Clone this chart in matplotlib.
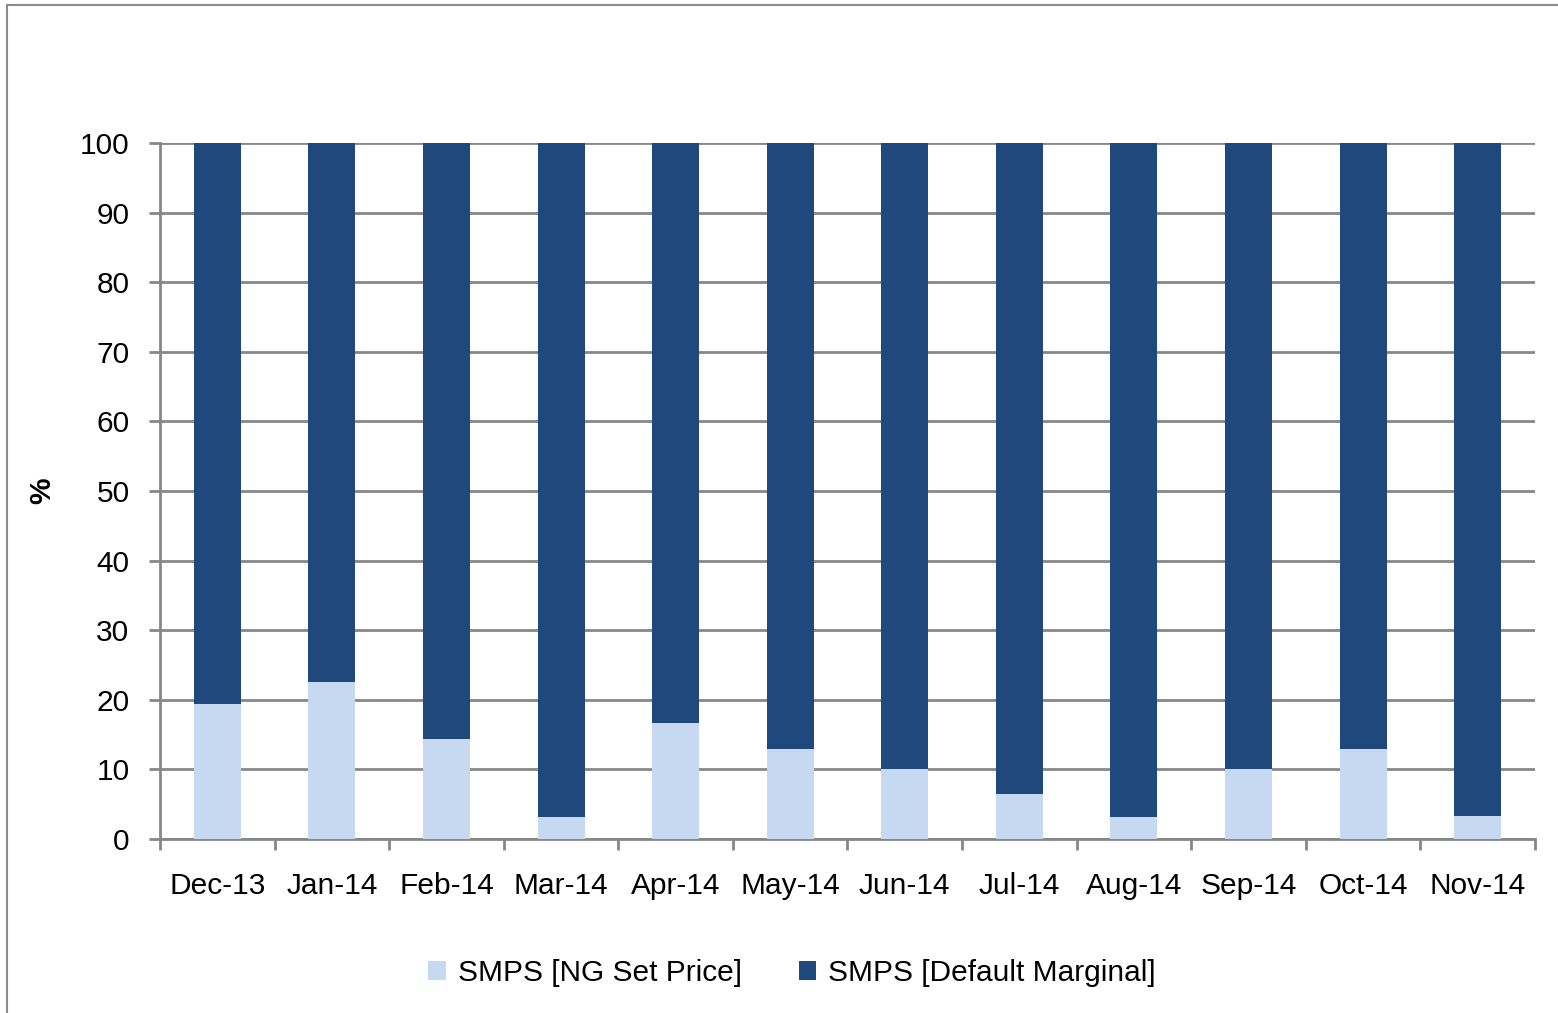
import matplotlib

matplotlib.use("Agg")

import matplotlib.pyplot as plt
import numpy as np
from matplotlib.patches import Patch, Rectangle

plt.rcParams["font.family"] = ["Liberation Sans", "DejaVu Sans"]

MONTHS = ["Dec-13", "Jan-14", "Feb-14", "Mar-14", "Apr-14", "May-14",
          "Jun-14", "Jul-14", "Aug-14", "Sep-14", "Oct-14", "Nov-14"]
NG_SET_PRICE = [19.4, 22.6, 14.3, 3.2, 16.7, 12.9, 10.0, 6.5, 3.2, 10.0, 12.9, 3.3]
DEFAULT_MARGINAL = [100 - v for v in NG_SET_PRICE]
Y_TICKS = list(range(0, 101, 10))

LIGHT_BLUE = "#c6d9f0"
DARK_BLUE = "#1f497d"
GRID_GREY = "#878787"
FONT_SIZE = 21.5

fig = plt.figure(figsize=(15.58, 10.13), dpi=100)
ax = fig.add_axes([160 / 1558, 174 / 1013, 1375 / 1558, 696 / 1013])

# outer chart frame
fig.patches.append(Rectangle((7 / 1558, -0.1), 1.2, (1013 - 5) / 1013 + 0.1,
                             transform=fig.transFigure, fill=False,
                             edgecolor="#8c8c8c", lw=1.5))

x = np.arange(len(MONTHS))
bar_w = 0.41
ax.bar(x, NG_SET_PRICE, width=bar_w, color=LIGHT_BLUE, zorder=3,
       label="SMPS [NG Set Price]")
ax.bar(x, DEFAULT_MARGINAL, width=bar_w, bottom=NG_SET_PRICE, color=DARK_BLUE,
       zorder=3, label="SMPS [Default Marginal]")

ax.set_xlim(-0.5, len(MONTHS) - 0.5)
ax.set_ylim(0, 100)
ax.set_yticks(Y_TICKS)
ax.yaxis.grid(True, color=GRID_GREY, lw=2, zorder=0)
ax.set_axisbelow(True)

for side in ["top", "right"]:
    ax.spines[side].set_visible(False)
for side in ["left", "bottom"]:
    ax.spines[side].set_color(GRID_GREY)
    ax.spines[side].set_linewidth(2)

ax.set_xticks(x)
ax.set_xticklabels(MONTHS)
ax.set_xticks(np.arange(-0.5, len(MONTHS), 1.0), minor=True)
ax.tick_params(axis="x", which="major", length=0, pad=24, labelsize=FONT_SIZE)
ax.tick_params(axis="x", which="minor", length=8, width=2, color=GRID_GREY)
ax.tick_params(axis="y", length=8, width=2, color=GRID_GREY, labelsize=FONT_SIZE, pad=14)

ax.set_ylabel("%", fontsize=FONT_SIZE, fontweight="bold", labelpad=17)

handles = [Patch(facecolor=LIGHT_BLUE, label="SMPS [NG Set Price]"),
           Patch(facecolor=DARK_BLUE, label="SMPS [Default Marginal]")]
fig.legend(handles=handles, loc="center", bbox_to_anchor=(792 / 1558, 1 - 973 / 1013),
           ncol=2, frameon=False, fontsize=FONT_SIZE, handlelength=0.6, handleheight=0.6,
           handletextpad=0.4, columnspacing=1.9)

fig.savefig("out.png", dpi=100, facecolor="white")
